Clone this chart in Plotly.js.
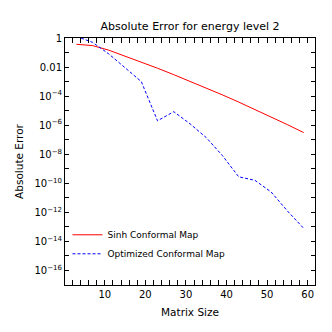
<!DOCTYPE html>
<html>
<head>
<meta charset="utf-8">
<script src="https://cdn.plot.ly/plotly-3.0.1.min.js"></script>
<style>html,body{margin:0;padding:0;background:#fff;}#chart{width:332px;height:332px;}</style>
</head>
<body>
<div id="chart"></div>
<script>
const matrixSize = [3, 7, 11, 15, 19, 23, 27, 31, 35, 39, 43, 47, 51, 55, 59];
const sinhError = [3.7e-1, 3.0e-1, 1.45e-1, 5.8e-2, 2.2e-2, 8.3e-3, 3.0e-3, 1.07e-3, 3.65e-4, 1.21e-4, 3.9e-5, 1.22e-5, 3.7e-6, 1.09e-6, 3.1e-7];
const optimizedError = [1.3e0, 5.0e-1, 8.0e-2, 9.0e-3, 1.0e-3, 2.0e-6, 8.5e-6, 1.25e-6, 1.4e-7, 8.0e-9, 2.8e-10, 1.6e-10, 2.5e-11, 1.25e-12, 8.0e-14];
const seriesNames = ["Sinh Conformal Map", "Optimized Conformal Map"];
const yMajorExponents = [0, -2, -4, -6, -8, -10, -12, -14, -16];
const yMinorExponents = [-1, -3, -5, -7, -9, -11, -13, -15, -17];

const yTickVals = yMajorExponents.map(e => Math.pow(10, e));
const yTickText = yMajorExponents.map(e => {
  if (e === 0) return "1";
  if (e === -2) return "0.01";
  return "10<sup>\u2212" + (-e) + "</sup>";
});
const yMinorVals = yMinorExponents.map(e => Math.pow(10, e));

const font = {family: "DejaVu Sans, sans-serif", color: "#000"};

const traces = [
  {x: matrixSize, y: sinhError, name: seriesNames[0], type: "scatter", mode: "lines",
   line: {color: "#ff0000", width: 1}},
  {x: matrixSize, y: optimizedError, name: seriesNames[1], type: "scatter", mode: "lines",
   line: {color: "#0000ff", width: 1, dash: "3px,2px"}}
];

const layout = {
  width: 332, height: 332,
  margin: {l: 65, r: 17, t: 38, b: 47},
  paper_bgcolor: "#fff", plot_bgcolor: "#fff",
  font: Object.assign({size: 10}, font),
  title: {text: "Absolute Error for energy level 2", font: Object.assign({size: 11}, font),
          x: 0.5725, xanchor: "center", y: 0.922, yanchor: "middle"},
  xaxis: {
    range: [0.2, 61.8], showgrid: false, zeroline: false,
    showline: true, linecolor: "#000", linewidth: 1, mirror: "allticks",
    ticks: "inside", ticklen: 5, tickcolor: "#000", tickwidth: 1,
    dtick: 10, tick0: 0,
    minor: {ticks: "inside", ticklen: 2.5, dtick: 2, tick0: 0, tickcolor: "#000", showgrid: false},
    tickfont: Object.assign({size: 10}, font),
    title: {text: "Matrix Size", font: Object.assign({size: 10.5}, font), standoff: 9}
  },
  yaxis: {
    type: "log", range: [-17, 0], showgrid: false, zeroline: false,
    showline: true, linecolor: "#000", linewidth: 1, mirror: "allticks",
    ticks: "inside", ticklen: 4, tickcolor: "#000", tickwidth: 1,
    tickmode: "array", tickvals: yTickVals, ticktext: yTickText,
    tickfont: Object.assign({size: 10}, font),
    title: {text: "Absolute Error", font: Object.assign({size: 10.5}, font), standoff: 8}
  },
  yaxis2: {
    type: "log", range: [-17, 0], overlaying: "y", side: "left",
    showgrid: false, zeroline: false, showline: false, mirror: "allticks",
    ticks: "inside", ticklen: 4, tickcolor: "#000", tickwidth: 1,
    tickmode: "array", tickvals: yMinorVals, showticklabels: false
  },
  showlegend: true,
  legend: {x: 0.01, y: 0.262, xanchor: "left", yanchor: "top", bgcolor: "rgba(0,0,0,0)",
           borderwidth: 0, font: Object.assign({size: 9}, font), tracegroupgap: 0,
           itemwidth: 30}
};

// invisible trace to activate the minor-tick overlay axis
traces.push({x: [matrixSize[0]], y: [sinhError[0]], yaxis: "y2", type: "scatter", mode: "markers",
             marker: {opacity: 0}, showlegend: false, hoverinfo: "skip"});

Plotly.newPlot("chart", traces, layout, {displayModeBar: false, staticPlot: true});
</script>
</body>
</html>
